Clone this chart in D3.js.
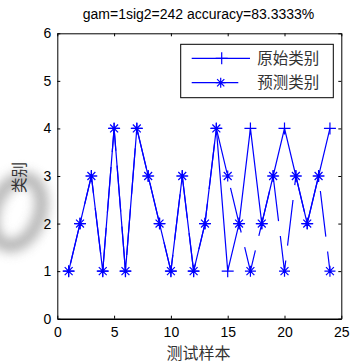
<!DOCTYPE html>
<html>
<head>
<meta charset="utf-8">
<script src="https://cdn.jsdelivr.net/npm/d3@7"></script>
<style>
  html, body { margin: 0; padding: 0; background: #fff; }
  svg { display: block; }
</style>
</head>
<body>
<svg id="chart" width="352" height="363"></svg>
<script>
// Test sample indices and class labels
const samples = d3.range(1, 25);
const originalClass = [1,2,3,1,4,1,4,3,2,1,3,1,2,4,1,2,4,2,3,4,3,2,3,4];
const predictedClass = [1,2,3,1,4,1,4,3,2,1,3,1,2,4,3,2,1,2,3,1,3,2,3,1];
const xTicks = [0, 5, 10, 15, 20, 25];
const yTicks = [0, 1, 2, 3, 4, 5, 6];
const seriesNames = ["原始类别", "预测类别"];
const titleText = "gam=1sig2=242 accuracy=83.3333%";
const xLabel = "测试样本";
const yLabel = "类别";

const svg = d3.select("#chart");
const plot = { left: 57.3, right: 341.3, top: 33.3, bottom: 318.7 };
const blue = "#0000ff";
const latin = "'Liberation Sans', Arial, sans-serif";
const cjk = "'Noto Sans CJK SC', sans-serif";

const x = d3.scaleLinear().domain([0, 25]).range([plot.left, plot.right]);
const y = d3.scaleLinear().domain([0, 6]).range([plot.bottom, plot.top]);

// soft grey ring on the left margin
const defs = svg.append("defs");
defs.append("filter").attr("id", "soft").attr("x", "-60%").attr("y", "-60%")
  .attr("width", "220%").attr("height", "220%")
  .append("feGaussianBlur").attr("stdDeviation", 6);
svg.append("ellipse")
  .attr("cx", 17).attr("cy", 212).attr("rx", 23).attr("ry", 35)
  .attr("transform", "rotate(20,17,212)")
  .attr("fill", "none").attr("stroke", "#999").attr("stroke-width", 12)
  .attr("filter", "url(#soft)").attr("opacity", 0.8);

// plot background
svg.append("rect")
  .attr("x", plot.left).attr("y", plot.top)
  .attr("width", plot.right - plot.left).attr("height", plot.bottom - plot.top)
  .attr("fill", "#fff");

// axes with inward ticks
const axisStyle = g => {
  g.selectAll(".domain").attr("stroke", "#000").attr("stroke-width", 1);
  g.selectAll(".tick line").attr("stroke", "#000");
  g.selectAll("text").attr("font-family", latin).attr("font-size", 14).attr("fill", "#000");
};
svg.append("g").attr("transform", `translate(0,${plot.bottom})`)
  .call(d3.axisBottom(x).tickValues(xTicks).tickFormat(d3.format("d")).tickSizeInner(-3).tickSizeOuter(0).tickPadding(8))
  .call(axisStyle)
  .select(".domain").attr("stroke-width", 1.4);
svg.append("g").attr("transform", `translate(0,${plot.top})`)
  .call(d3.axisTop(x).tickValues(xTicks).tickFormat("").tickSizeInner(-3).tickSizeOuter(0))
  .call(axisStyle);
svg.append("g").attr("transform", `translate(${plot.left},0)`)
  .call(d3.axisLeft(y).tickValues(yTicks).tickFormat(d3.format("d")).tickSizeInner(-3).tickSizeOuter(0).tickPadding(6))
  .call(axisStyle);
svg.append("g").attr("transform", `translate(${plot.right},0)`)
  .call(d3.axisRight(y).tickValues(yTicks).tickFormat("").tickSizeInner(-3).tickSizeOuter(0))
  .call(axisStyle);

// marker shapes
const plusPath = (cx, cy, r) => `M${cx - r},${cy}H${cx + r}M${cx},${cy - r}V${cy + r}`;
const starPath = (cx, cy, r) => {
  const d = r * 0.72;
  return plusPath(cx, cy, r) + `M${cx - d},${cy - d}L${cx + d},${cy + d}M${cx - d},${cy + d}L${cx + d},${cy - d}`;
};

const line = d3.line().x(d => x(d[0])).y(d => y(d[1]));
const origData = samples.map((s, i) => [s, originalClass[i]]);
const predData = samples.map((s, i) => [s, predictedClass[i]]);

// predicted line is broken into dashes; phase starts at the first misclassified sample's predecessor
const firstMiss = predictedClass.findIndex((c, i) => c !== originalClass[i]);
let lenToPhase = 0;
for (let i = 1; i < firstMiss; i++) {
  lenToPhase += Math.hypot(x(predData[i][0]) - x(predData[i - 1][0]), y(predData[i][1]) - y(predData[i - 1][1]));
}
const dashOn = 46, dashOff = 15;

const plotG = svg.append("g");
plotG.append("path").datum(origData).attr("d", line)
  .attr("fill", "none").attr("stroke", blue).attr("stroke-width", 1.2);
plotG.append("path").datum(predData).attr("d", line)
  .attr("fill", "none").attr("stroke", blue).attr("stroke-width", 1.2)
  .attr("stroke-dasharray", `${dashOn},${dashOff}`)
  .attr("stroke-dashoffset", -lenToPhase);
plotG.append("path")
  .attr("d", origData.map(d => plusPath(x(d[0]), y(d[1]), 6)).join(""))
  .attr("fill", "none").attr("stroke", blue).attr("stroke-width", 1.2);
plotG.append("path")
  .attr("d", predData.map(d => starPath(x(d[0]), y(d[1]), 5.5)).join(""))
  .attr("fill", "none").attr("stroke", blue).attr("stroke-width", 1.2);

// legend
const leg = svg.append("g");
leg.append("rect").attr("x", 180.7).attr("y", 44.3).attr("width", 152.6).attr("height", 53.4)
  .attr("fill", "#fff").attr("stroke", "#000").attr("stroke-width", 1);
const legRows = [
  { y: 58.3, x1: 191.7, x2: 250, mx: 221.7, marker: plusPath, r: 6, name: seriesNames[0] },
  { y: 82.7, x1: 191.7, x2: 238.3, mx: 220.7, marker: starPath, r: 5, name: seriesNames[1] }
];
legRows.forEach(r => {
  leg.append("line").attr("x1", r.x1).attr("x2", r.x2).attr("y1", r.y).attr("y2", r.y)
    .attr("stroke", blue).attr("stroke-width", 1.2);
  leg.append("path").attr("d", r.marker(r.mx, r.y, r.r))
    .attr("fill", "none").attr("stroke", blue).attr("stroke-width", 1.2);
  leg.append("text").attr("x", 257.3).attr("y", r.y).attr("dy", "0.35em")
    .attr("font-family", cjk).attr("font-size", 15.5).attr("fill", "#333")
    .text(r.name);
});

// title and axis labels
svg.append("text").attr("x", 198.5).attr("y", 19).attr("text-anchor", "middle")
  .attr("font-family", latin).attr("font-size", 14).attr("fill", "#000")
  .text(titleText);
svg.append("text").attr("x", 198.5).attr("y", 359).attr("text-anchor", "middle")
  .attr("font-family", cjk).attr("font-size", 16).attr("fill", "#333")
  .text(xLabel);
svg.append("text").attr("transform", "translate(25,177.5) rotate(-90)").attr("text-anchor", "middle")
  .attr("font-family", cjk).attr("font-size", 15.5).attr("fill", "#333")
  .text(yLabel);
</script>
</body>
</html>
